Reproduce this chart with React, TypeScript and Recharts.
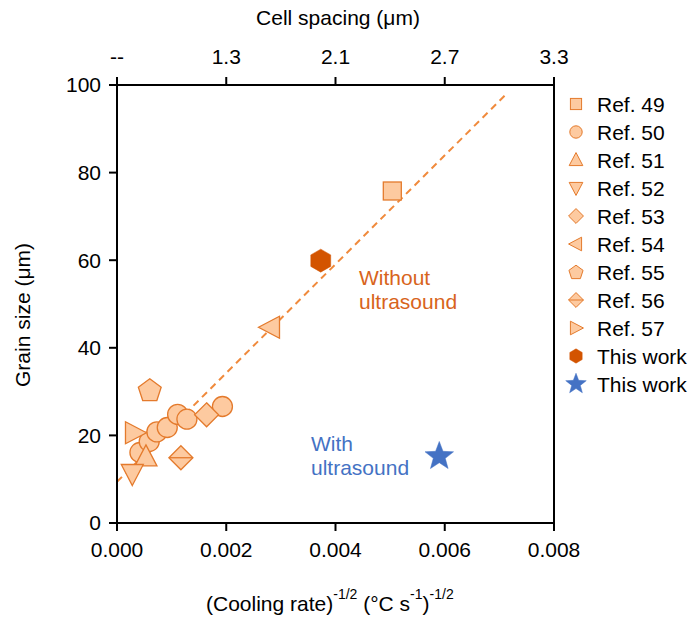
import React from 'react';
import { ScatterChart, Scatter, XAxis, YAxis, ReferenceLine } from 'recharts';

const FONT = '"Liberation Sans", Arial, Helvetica, sans-serif';

// ---- data ----
const ref49 = [{ x: 0.00504, y: 75.8 }];
const ref50 = [
  { x: 0.00042, y: 16.1 },
  { x: 0.00059, y: 18.6 },
  { x: 0.00073, y: 20.8 },
  { x: 0.00092, y: 21.8 },
  { x: 0.00111, y: 24.8 },
  { x: 0.00128, y: 23.7 },
  { x: 0.00193, y: 26.6 },
];
const ref51 = [{ x: 0.00053, y: 15.1 }];
const ref52 = [{ x: 0.00028, y: 11.3 }];
const ref53 = [{ x: 0.00164, y: 24.7 }];
const ref54 = [{ x: 0.00281, y: 44.7 }];
const ref55 = [{ x: 0.0006, y: 30.4 }];
const ref56 = [{ x: 0.00117, y: 14.9 }];
const ref57 = [{ x: 0.00032, y: 20.6 }];
const thisWorkWithout = [{ x: 0.00373, y: 59.9 }];
const thisWorkWith = [{ x: 0.0059, y: 15.2 }];
const fitLine = [{ x: 0, y: 9.4 }, { x: 0.0071, y: 97.6 }];

const xTicks = [0, 0.002, 0.004, 0.006, 0.008];
const topTickLabels = ['--', '1.3', '2.1', '2.7', '3.3'];
const yTicks = [0, 20, 40, 60, 80, 100];

const legendNames = [
  'Ref. 49', 'Ref. 50', 'Ref. 51', 'Ref. 52', 'Ref. 53', 'Ref. 54',
  'Ref. 55', 'Ref. 56', 'Ref. 57', 'This work', 'This work',
];
const legendKinds = [
  'square', 'circle', 'up', 'down', 'diamond', 'left',
  'pentagon', 'diamondLine', 'right', 'hexagon', 'star',
];

// ---- styles ----
const FILL = '#fdcaa0';
const STROKE = '#e47a2c';
const DARK = '#d35400';
const BLUE = '#4472c4';

const poly = (cx: number, cy: number, r: number, n: number, rot: number) => {
  const pts: string[] = [];
  for (let k = 0; k < n; k++) {
    const a = ((rot + (360 / n) * k) * Math.PI) / 180;
    pts.push(`${cx + r * Math.cos(a)},${cy + r * Math.sin(a)}`);
  }
  return pts.join(' ');
};

const starPts = (cx: number, cy: number, R: number, r: number) => {
  const pts: string[] = [];
  for (let k = 0; k < 10; k++) {
    const a = ((-90 + 36 * k) * Math.PI) / 180;
    const rr = k % 2 === 0 ? R : r;
    pts.push(`${cx + rr * Math.cos(a)},${cy + rr * Math.sin(a)}`);
  }
  return pts.join(' ');
};

function Marker({ kind, cx, cy, s = 1, sw = 1.3 }: { kind: string; cx: number; cy: number; s?: number; sw?: number }) {
  const common = { fill: FILL, stroke: STROKE, strokeWidth: sw };
  switch (kind) {
    case 'square':
      return <rect x={cx - 9 * s} y={cy - 9 * s} width={18 * s} height={18 * s} {...common} />;
    case 'circle':
      return <circle cx={cx} cy={cy} r={10 * s} {...common} />;
    case 'up':
      return <polygon points={`${cx},${cy - 12 * s} ${cx + 11 * s},${cy + 9 * s} ${cx - 11 * s},${cy + 9 * s}`} {...common} />;
    case 'down':
      return <polygon points={`${cx},${cy + 12 * s} ${cx + 11 * s},${cy - 9 * s} ${cx - 11 * s},${cy - 9 * s}`} {...common} />;
    case 'left':
      return <polygon points={`${cx - 12 * s},${cy} ${cx + 9 * s},${cy - 11 * s} ${cx + 9 * s},${cy + 11 * s}`} {...common} />;
    case 'right':
      return <polygon points={`${cx + 12 * s},${cy} ${cx - 9 * s},${cy - 11 * s} ${cx - 9 * s},${cy + 11 * s}`} {...common} />;
    case 'diamond':
      return <polygon points={`${cx},${cy - 12 * s} ${cx + 12 * s},${cy} ${cx},${cy + 12 * s} ${cx - 12 * s},${cy}`} {...common} />;
    case 'diamondLine':
      return (
        <g>
          <polygon points={`${cx},${cy - 12 * s} ${cx + 12 * s},${cy} ${cx},${cy + 12 * s} ${cx - 12 * s},${cy}`} {...common} />
          <line x1={cx - 12 * s} y1={cy} x2={cx + 12 * s} y2={cy} stroke={STROKE} strokeWidth={sw} />
        </g>
      );
    case 'pentagon':
      return <polygon points={poly(cx, cy + 1 * s, 12 * s, 5, -90)} {...common} />;
    case 'hexagon':
      return <polygon points={poly(cx, cy, 11.5 * s, 6, -90)} fill={DARK} stroke={DARK} strokeWidth={0.5} />;
    case 'star':
      return <polygon points={starPts(cx, cy, 15 * s, 6.3 * s)} fill={BLUE} stroke={BLUE} strokeWidth={0.5} />;
    default:
      return null;
  }
}

const shapeOf = (kind: string) => (props: any) => <Marker kind={kind} cx={props.cx} cy={props.cy} />;

const axisStyle = { stroke: '#000', strokeWidth: 2 };
const tickStyle = { fill: '#000', fontSize: 21, fontFamily: FONT };

export default function App() {
  const legendTop = 104;
  const legendStep = 28;
  return (
    <div style={{ position: 'absolute', left: 0, top: 0, width: 689, height: 622, background: '#fff' }}>
      <ScatterChart width={689} height={622} margin={{ top: 0, right: 135, bottom: 0, left: 0 }}>
        <XAxis
          xAxisId="b"
          dataKey="x"
          type="number"
          orientation="bottom"
          domain={[0, 0.008]}
          ticks={xTicks}
          tickFormatter={(v: number) => v.toFixed(3)}
          height={99}
          axisLine={axisStyle}
          tickLine={axisStyle}
          tickSize={8}
          tickMargin={11}
          tick={tickStyle}
          allowDataOverflow
        />
        <XAxis
          xAxisId="t"
          dataKey="x"
          type="number"
          orientation="top"
          domain={[0, 0.008]}
          ticks={xTicks}
          tickFormatter={(v: number) => topTickLabels[xTicks.indexOf(v)] ?? ''}
          height={85}
          axisLine={axisStyle}
          tickLine={axisStyle}
          tickSize={8}
          tickMargin={13}
          tick={tickStyle}
          allowDataOverflow
        />
        <YAxis
          dataKey="y"
          type="number"
          domain={[0, 100]}
          ticks={yTicks}
          width={117}
          axisLine={axisStyle}
          tickLine={axisStyle}
          tickSize={8}
          tickMargin={8}
          tick={tickStyle}
          allowDataOverflow
        />
        <ReferenceLine xAxisId="b" x={0.008} stroke="#000" strokeWidth={2} />
        <ReferenceLine
          xAxisId="b"
          segment={fitLine}
          stroke="#f08a3c"
          strokeWidth={2}
          strokeDasharray="7 5"
          ifOverflow="visible"
        />
        <Scatter xAxisId="b" data={ref49} shape={shapeOf('square')} isAnimationActive={false} />
        <Scatter xAxisId="b" data={ref50} shape={shapeOf('circle')} isAnimationActive={false} />
        <Scatter xAxisId="b" data={ref51} shape={shapeOf('up')} isAnimationActive={false} />
        <Scatter xAxisId="b" data={ref52} shape={shapeOf('down')} isAnimationActive={false} />
        <Scatter xAxisId="b" data={ref53} shape={shapeOf('diamond')} isAnimationActive={false} />
        <Scatter xAxisId="b" data={ref54} shape={shapeOf('left')} isAnimationActive={false} />
        <Scatter xAxisId="b" data={ref55} shape={shapeOf('pentagon')} isAnimationActive={false} />
        <Scatter xAxisId="b" data={ref56} shape={shapeOf('diamondLine')} isAnimationActive={false} />
        <Scatter xAxisId="b" data={ref57} shape={shapeOf('right')} isAnimationActive={false} />
        <Scatter xAxisId="b" data={thisWorkWithout} shape={shapeOf('hexagon')} isAnimationActive={false} />
        <Scatter xAxisId="b" data={thisWorkWith} shape={shapeOf('star')} isAnimationActive={false} />
      </ScatterChart>
      <svg
        width={689}
        height={622}
        style={{ position: 'absolute', left: 0, top: 0, pointerEvents: 'none' }}
        fontFamily={FONT}
      >
        <text x={338} y={25} fontSize={21} textAnchor="middle" fill="#000">Cell spacing (μm)</text>
        <text x={30} y={315} fontSize={21} textAnchor="middle" fill="#000" transform="rotate(-90 30 315)">
          Grain size (μm)
        </text>
        <text x={206} y={611} fontSize={21} fill="#000">
          (Cooling rate)
          <tspan fontSize={14} dy={-12}>-1/2</tspan>
          <tspan dy={12}> (°C s</tspan>
          <tspan fontSize={14} dy={-12}>-1</tspan>
          <tspan dy={12}>)</tspan>
          <tspan fontSize={14} dy={-12}>-1/2</tspan>
        </text>
        <text x={359} y={285} fontSize={21} fill="#d8641c">Without</text>
        <text x={359} y={309} fontSize={21} fill="#d8641c">ultrasound</text>
        <text x={311} y={451} fontSize={21} fill={BLUE}>With</text>
        <text x={311} y={475} fontSize={21} fill={BLUE}>ultrasound</text>
        {legendNames.map((name, i) => {
          const cy = legendTop + i * legendStep;
          return (
            <g key={i}>
              <Marker kind={legendKinds[i]} cx={576} cy={cy} s={legendKinds[i] === 'star' ? 0.72 : 0.62} sw={1} />
              <text x={597} y={cy + 7.5} fontSize={21} fill="#000">{name}</text>
            </g>
          );
        })}
      </svg>
    </div>
  );
}
